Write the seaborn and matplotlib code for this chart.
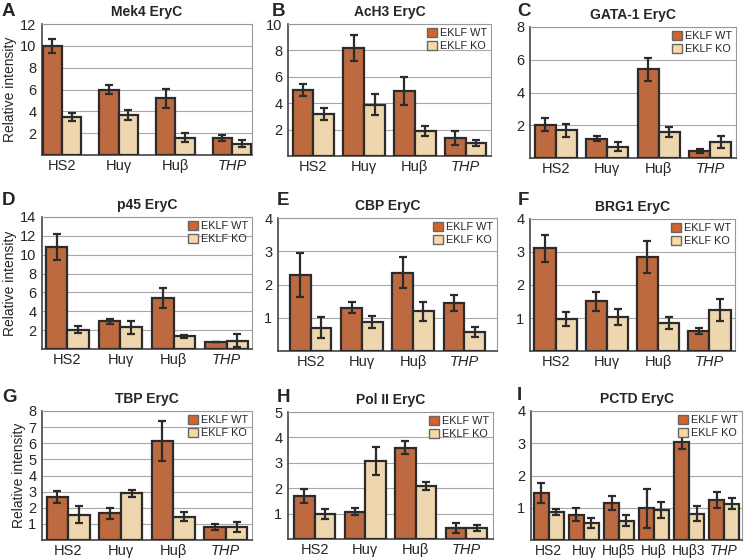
import pandas as pd
import seaborn as sns
import matplotlib.pyplot as plt
from matplotlib.patches import Patch

sns.set_style("white")
plt.rcParams['font.family'] = ['Liberation Sans', 'DejaVu Sans']

# ---- data ----
sites4 = ["HS2", "Huγ", "Huβ", "THP"]
sites6 = ["HS2", "Huγ", "Huβ5", "Huβ", "Huβ3", "THP"]

mek4_wt = [10.0, 6.0, 5.2, 1.55]
mek4_wt_err = [0.65, 0.45, 0.85, 0.28]
mek4_ko = [3.45, 3.67, 1.6, 1.05]
mek4_ko_err = [0.38, 0.45, 0.38, 0.33]

ach3_wt = [5.0, 8.2, 4.9, 1.35]
ach3_wt_err = [0.48, 1.0, 1.05, 0.55]
ach3_ko = [3.18, 3.9, 1.9, 1.0]
ach3_ko_err = [0.42, 0.83, 0.4, 0.22]

gata1_wt = [2.04, 1.17, 5.43, 0.42]
gata1_wt_err = [0.4, 0.15, 0.7, 0.1]
gata1_ko = [1.68, 0.7, 1.58, 0.97]
gata1_ko_err = [0.4, 0.25, 0.3, 0.36]

p45_wt = [10.8, 2.93, 5.4, 0.74]
p45_wt_err = [1.36, 0.26, 1.06, 0.05]
p45_ko = [2.05, 2.3, 1.34, 0.88]
p45_ko_err = [0.4, 0.67, 0.18, 0.67]

cbp_wt = [2.28, 1.3, 2.35, 1.44]
cbp_wt_err = [0.66, 0.17, 0.47, 0.24]
cbp_ko = [0.7, 0.87, 1.19, 0.57]
cbp_ko_err = [0.32, 0.17, 0.28, 0.15]

brg1_wt = [3.12, 1.51, 2.85, 0.61]
brg1_wt_err = [0.41, 0.29, 0.48, 0.1]
brg1_ko = [0.98, 1.03, 0.85, 1.24]
brg1_ko_err = [0.21, 0.25, 0.18, 0.33]

tbp_wt = [2.69, 1.65, 6.14, 0.83]
tbp_wt_err = [0.37, 0.35, 1.25, 0.19]
tbp_ko = [1.57, 2.89, 1.45, 0.8]
tbp_ko_err = [0.54, 0.2, 0.27, 0.29]

pol2_wt = [1.7, 1.08, 3.6, 0.43]
pol2_wt_err = [0.27, 0.13, 0.26, 0.2]
pol2_ko = [0.98, 3.07, 2.09, 0.43]
pol2_ko_err = [0.19, 0.54, 0.16, 0.13]

pctd_wt = [1.46, 0.79, 1.15, 0.98, 3.04, 1.24]
pctd_wt_err = [0.3, 0.19, 0.22, 0.6, 0.23, 0.24]
pctd_ko = [0.86, 0.52, 0.59, 0.93, 0.82, 1.13]
pctd_ko_err = [0.1, 0.16, 0.17, 0.25, 0.23, 0.17]

WT = "#D3632B"
KO = "#F8D9A5"
EDGE = "#2b2b2b"

# letter, title, sites, wt, wt_err, ko, ko_err, ymax, ystep,
# axes box (l, t, r, b px), letter pos (x, y px), bar width, x pad, legend, ylabel
panels = [
    ("A", "Mek4 EryC", sites4, mek4_wt, mek4_wt_err, mek4_ko, mek4_ko_err, 12, 2, (42, 24, 252, 155), (2, 12), 0.68, 0.35, False, True),
    ("B", "AcH3 EryC", sites4, ach3_wt, ach3_wt_err, ach3_ko, ach3_ko_err, 10, 2, (288, 24, 491, 156), (272, 12), 0.82, 0.5, True, False),
    ("C", "GATA-1 EryC", sites4, gata1_wt, gata1_wt_err, gata1_ko, gata1_ko_err, 8, 2, (530, 27, 736, 158), (517, 12), 0.82, 0.5, True, False),
    ("D", "p45 EryC", sites4, p45_wt, p45_wt_err, p45_ko, p45_ko_err, 14, 2, (42, 217, 252, 349), (2, 200), 0.81, 0.48, True, True),
    ("E", "CBP EryC", sites4, cbp_wt, cbp_wt_err, cbp_ko, cbp_ko_err, 4, 1, (278, 218, 497, 351), (277, 200), 0.81, 0.64, True, False),
    ("F", "BRG1 EryC", sites4, brg1_wt, brg1_wt_err, brg1_ko, brg1_ko_err, 4, 1, (530, 219, 735, 351), (518, 200), 0.83, 0.5, True, False),
    ("G", "TBP EryC", sites4, tbp_wt, tbp_wt_err, tbp_ko, tbp_ko_err, 8, 1, (42, 411, 252, 540), (2, 398), 0.82, 0.5, True, True),
    ("H", "Pol II EryC", sites4, pol2_wt, pol2_wt_err, pol2_ko, pol2_ko_err, 5, 1, (288, 412, 493, 539), (277, 397), 0.82, 0.53, True, False),
    ("I", "PCTD EryC", sites6, pctd_wt, pctd_wt_err, pctd_ko, pctd_ko_err, 4, 1, (531, 411, 742, 540), (517, 395), 0.85, 0.51, True, False),
]

W, H = 748, 560
fig = plt.figure(figsize=(W / 100, H / 100), dpi=100)

for (letter, title, sites, wt, wt_err, ko, ko_err, ymax, ystep, box, lpos,
     bw, pad, show_leg, show_ylab) in panels:
    l, t, r, b = box
    ax = fig.add_axes([l / W, 1 - b / H, (r - l) / W, (b - t) / H])

    df = pd.DataFrame({
        "site": sites + sites,
        "geno": ["EKLF WT"] * len(sites) + ["EKLF KO"] * len(sites),
        "value": wt + ko,
    })
    sns.barplot(data=df, x="site", y="value", hue="geno", order=sites,
                hue_order=["EKLF WT", "EKLF KO"],
                palette={"EKLF WT": WT, "EKLF KO": KO},
                width=bw, edgecolor=EDGE, linewidth=1.6, errorbar=None,
                legend=False, ax=ax, zorder=3)

    # error bars placed on the bars seaborn drew
    for cont, errs in zip(ax.containers, [wt_err, ko_err]):
        xs = [p.get_x() + p.get_width() / 2 for p in cont]
        hs = [p.get_height() for p in cont]
        ax.errorbar(xs, hs, yerr=errs, fmt="none", ecolor=EDGE,
                    elinewidth=1.6, capsize=3, capthick=1.6, zorder=4)

    ax.set_ylim(0, ymax)
    ax.set_xlim(-pad, len(sites) - 1 + pad)
    ax.set_yticks(range(ystep, ymax + 1, ystep))
    ax.yaxis.grid(True, color="#a8a8a8", linewidth=0.8, zorder=0)
    ax.set_axisbelow(True)
    ax.tick_params(axis="y", length=3, width=0.8, color="#555", labelsize=10.5, pad=1)
    ax.tick_params(axis="x", length=0, labelsize=10.5 if len(sites) == 4 else 10, pad=3)
    ax.set_xlabel("")
    ax.set_ylabel("Relative intensity" if show_ylab else "", fontsize=10, labelpad=2)
    for lab in ax.get_xticklabels():
        if lab.get_text() == "THP":
            lab.set_fontstyle("italic")

    for side in ["left", "bottom"]:
        ax.spines[side].set_color("#444")
        ax.spines[side].set_linewidth(1.2)
    for side in ["top", "right"]:
        ax.spines[side].set_color("#999")
        ax.spines[side].set_linewidth(0.8)

    ax.set_title(title, fontsize=10, fontweight="bold", pad=6)
    fig.text(lpos[0] / W, 1 - lpos[1] / H, letter, fontsize=13.5,
             fontweight="bold", ha="left", va="center")

    if show_leg:
        handles = [Patch(facecolor=WT, edgecolor="#666", label="EKLF WT"),
                   Patch(facecolor=KO, edgecolor="#666", label="EKLF KO")]
        ax.legend(handles=handles, loc="upper right", fontsize=7.8, frameon=False,
                  handlelength=1.0, handleheight=1.0, handletextpad=0.25,
                  labelspacing=0.2, borderaxespad=0.25, borderpad=0.1)

fig.savefig("out.png", dpi=100)
